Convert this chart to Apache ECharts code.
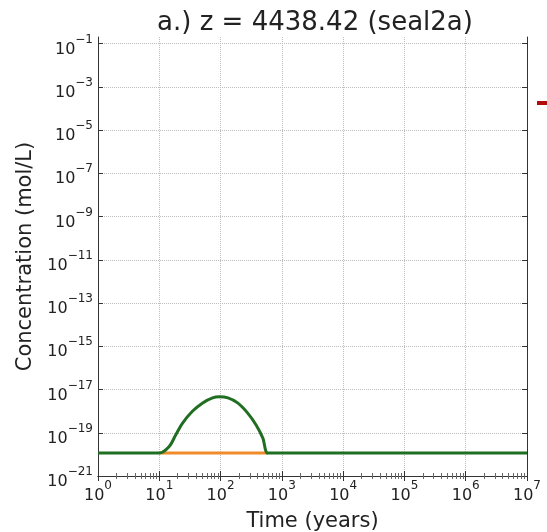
<!DOCTYPE html>
<html>
<head>
<meta charset="utf-8">
<script src="https://cdn.jsdelivr.net/npm/echarts@6/dist/echarts.min.js"></script>
<style>
  html, body { margin: 0; padding: 0; background: #fff; }
  #chart { width: 547px; height: 532px; }
</style>
</head>
<body>
<div id="chart"></div>
<script>
// Time axis (years) and concentrations (mol/L)
const timeYears = [1, 10, 14.5, 18.6, 24, 34.7, 51, 74, 95, 132, 190, 275, 380, 490, 590, 1000, 1e4, 1e5, 1e6, 1e7];
const concGreen = [1.15e-20, 1.15e-20, 2.3e-20, 8.1e-20, 2.8e-19, 9.8e-19, 2.4e-18, 4.1e-18, 4.6e-18, 4.1e-18, 2.4e-18, 8.3e-19, 2.3e-19, 5.6e-20, 1.15e-20, 1.15e-20, 1.15e-20, 1.15e-20, 1.15e-20, 1.15e-20];
const timeOrange = [10, 590];
const concOrange = [1.15e-20, 1.15e-20];

// Labelled ticks on the concentration axis
const yTicks = [1e-21, 1e-19, 1e-17, 1e-15, 1e-13, 1e-11, 1e-9, 1e-7, 1e-5, 1e-3, 1e-1];

const titleText = 'a.) z = 4438.42 (seal2a)';
const xName = 'Time (years)';
const yName = 'Concentration (mol/L)';
const xRange = [1, 1e7];
const yRange = [1e-21, 0.2];

const FONT = 'DejaVu Sans';

function powLabel(v) {
  const e = Math.round(Math.log10(v));
  return '{b|10}{s|' + String(e).replace('-', '\u2212') + '}';
}
const richPow = {
  b: { fontFamily: FONT, fontSize: 16, color: '#222', lineHeight: 24, verticalAlign: 'bottom' },
  s: { fontFamily: FONT, fontSize: 12, color: '#222', lineHeight: 24, verticalAlign: 'top' }
};

function pairs(xs, ys) { return xs.map((x, i) => [x, ys[i]]); }

const spine = { show: true, lineStyle: { color: '#333', width: 1 } };
const grid = { show: true, lineStyle: { color: '#bdbdbd', type: 'dotted', width: 1 } };
const majorTick = { show: true, inside: true, length: 5, lineStyle: { color: '#333' } };
const minorTick = { show: true, splitNumber: 9, length: 3, lineStyle: { color: '#666' } };

const chart = echarts.init(document.getElementById('chart'), null, { renderer: 'canvas' });
chart.setOption({
  animation: false,
  backgroundColor: '#ffffff',
  title: {
    text: titleText,
    left: 310, top: 5, textAlign: 'center',
    textStyle: { fontFamily: FONT, fontSize: 26, fontWeight: 'normal', color: '#222' }
  },
  grid: { left: 98, right: 20, top: 37, bottom: 56, containLabel: false, outerBoundsMode: 'none' },
  xAxis: [{
    type: 'log', logBase: 10, min: xRange[0], max: xRange[1], splitNumber: 7,
    position: 'bottom',
    name: xName, nameLocation: 'middle', nameGap: 35,
    nameTextStyle: { fontFamily: FONT, fontSize: 21, color: '#222' },
    axisLine: spine,
    axisTick: majorTick,
    minorTick: minorTick,
    splitLine: grid,
    axisLabel: { formatter: powLabel, rich: richPow, margin: 4, showMinLabel: true, showMaxLabel: true, hideOverlap: false }
  }, {
    type: 'log', logBase: 10, min: xRange[0], max: xRange[1], splitNumber: 7,
    position: 'top',
    axisLine: spine,
    axisTick: majorTick,
    minorTick: minorTick,
    splitLine: { show: false },
    axisLabel: { show: false }
  }],
  yAxis: [{
    type: 'log', logBase: 10, min: yRange[0], max: yRange[1],
    position: 'left',
    name: yName, nameLocation: 'middle', nameGap: 62, nameRotate: 90, nameMoveOverlap: false,
    nameTextStyle: { fontFamily: FONT, fontSize: 21, color: '#222' },
    axisLine: spine,
    axisTick: Object.assign({ customValues: yTicks }, majorTick),
    splitLine: grid,
    axisLabel: { customValues: yTicks, formatter: powLabel, rich: richPow, margin: 5, padding: [4, 0, 0, 0], showMinLabel: true, hideOverlap: false }
  }, {
    type: 'log', logBase: 10, min: yRange[0], max: yRange[1],
    position: 'right',
    axisLine: spine,
    axisTick: Object.assign({ customValues: yTicks }, majorTick),
    splitLine: { show: false },
    axisLabel: { show: false }
  }],
  series: [{
    type: 'line', xAxisIndex: 0, yAxisIndex: 0,
    data: pairs(timeOrange, concOrange),
    showSymbol: false, smooth: false,
    lineStyle: { color: '#f08a2a', width: 3 },
    z: 2
  }, {
    type: 'line', xAxisIndex: 0, yAxisIndex: 0,
    data: pairs(timeYears, concGreen),
    showSymbol: false, smooth: 0.3,
    lineStyle: { color: '#1f6e22', width: 3 },
    z: 3
  }],
  graphic: [{
    // edge of the neighbouring panel's red curve
    type: 'rect', left: 537, top: 101,
    shape: { width: 10, height: 4 },
    style: { fill: '#b10b0b' }
  }]
});
</script>
</body>
</html>
